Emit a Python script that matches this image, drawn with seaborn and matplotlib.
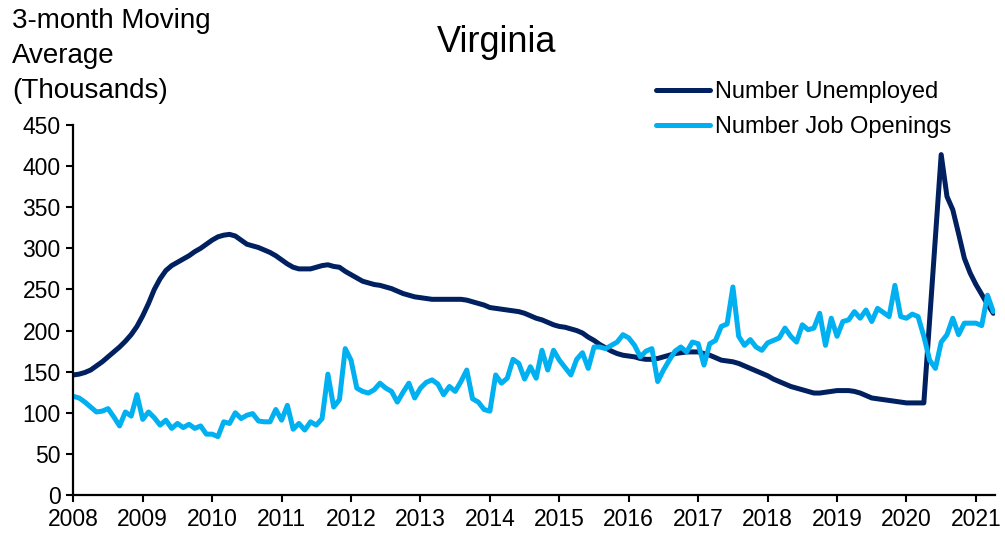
import matplotlib
matplotlib.use("Agg")
import matplotlib.pyplot as plt
import seaborn as sns
import pandas as pd
from matplotlib.lines import Line2D

years = [str(y) for y in range(2008, 2022)]

unemployed = [
    146, 147, 149, 152, 157, 162, 168, 174, 180, 187, 195, 205,
    218, 233, 250, 263, 273, 279, 283, 287, 291, 296, 300, 305,
    310, 314, 316, 317, 315, 310, 305, 303, 301, 298, 295, 291,
    286, 281, 277, 275, 275, 275, 277, 279, 280, 278, 277, 272,
    268, 264, 260, 258, 256, 255, 253, 251, 248, 245, 243, 241,
    240, 239, 238, 238, 238, 238, 238, 238, 237, 235, 233, 231,
    228, 227, 226, 225, 224, 223, 221, 218, 215, 213, 210, 207,
    205, 204, 202, 200, 197, 192, 188, 183, 179, 175, 172, 170,
    169, 168, 166, 165, 165, 166, 168, 170, 172, 173, 174, 174,
    174, 172, 170, 167, 164, 163, 162, 160, 157, 154, 151, 148,
    145, 141, 138, 135, 132, 130, 128, 126, 124, 124, 125, 126,
    127, 127, 127, 126, 124, 121, 118, 117, 116, 115, 114, 113,
    112, 112, 112, 112, 213, 313, 414, 363, 347, 318, 288, 270,
    256, 244, 232, 221,
]

job_openings = [
    120, 118, 113, 107, 101, 102, 105, 95, 84, 101, 96, 122,
    92, 101, 94, 85, 91, 81, 87, 82, 86, 81, 84, 74,
    74, 71, 89, 87, 100, 93, 97, 99, 90, 89, 89, 104,
    91, 109, 80, 87, 79, 89, 85, 93, 147, 107, 116, 178,
    164, 130, 126, 124, 128, 136, 130, 126, 113, 125, 136, 118,
    130, 137, 140, 135, 122, 132, 126, 138, 152, 117, 113, 104,
    102, 146, 136, 142, 165, 160, 141, 156, 142, 176, 152, 176,
    164, 155, 146, 165, 173, 154, 180, 180, 178, 182, 186, 195,
    191, 182, 168, 175, 178, 138, 152, 164, 175, 180, 174, 186,
    184, 158, 184, 188, 205, 208, 253, 193, 182, 189, 180, 176,
    185, 188, 191, 203, 193, 186, 207, 201, 203, 221, 182, 215,
    193, 211, 213, 223, 215, 225, 211, 227, 222, 217, 255, 217,
    215, 220, 217, 193, 164, 154, 186, 195, 215, 195, 209, 209,
    209, 206, 243, 223,
]

series_names = ["Number Unemployed", "Number Job Openings"]
colors = ["#002060", "#00B0F0"]

month_index = list(range(len(unemployed)))
df = pd.DataFrame({
    "month": month_index + month_index,
    "value": unemployed + job_openings,
    "series": [series_names[0]] * len(unemployed) + [series_names[1]] * len(job_openings),
})

sns.set_style("ticks")
plt.rcParams["font.family"] = ["Liberation Sans", "DejaVu Sans"]
plt.rcParams["text.color"] = "black"
plt.rcParams["axes.labelcolor"] = "black"
plt.rcParams["xtick.color"] = "black"
plt.rcParams["ytick.color"] = "black"

fig = plt.figure(figsize=(10.05, 5.35), dpi=100)
ax = fig.add_axes([73.3 / 1005, 1 - 495 / 535, (995 - 73.3) / 1005, 370 / 535])

sns.lineplot(data=df, x="month", y="value", hue="series", hue_order=series_names,
             palette=colors, linewidth=3.6, ax=ax, legend=False)

ax.set_xlim(0, 159.3)
ax.set_ylim(0, 450)
ax.set_yticks(range(0, 451, 50))
ax.set_xticks(range(0, 12 * len(years), 12))
ax.set_xticklabels(years)
ax.set_xlabel("")
ax.set_ylabel("")
ax.tick_params(axis="both", direction="out", length=5, width=1.5, labelsize=16.5,
               colors="black", labelcolor="black", pad=4)
for side in ["left", "bottom"]:
    ax.spines[side].set_linewidth(1.6)
    ax.spines[side].set_color("black")
for side in ["top", "right"]:
    ax.spines[side].set_visible(False)

fig.text(12 / 1005, 1 - 8 / 535, "3-month Moving\nAverage\n(Thousands)",
         ha="left", va="top", fontsize=20, linespacing=1.45, color="black")
fig.text(497 / 1005, 1 - 43 / 535, "Virginia", ha="center", va="center",
         fontsize=26, color="black")

handles = [Line2D([0], [0], color=c, lw=3.6) for c in colors]
leg = fig.legend(handles, series_names, loc="upper left",
                 bbox_to_anchor=(656 / 1005, 1 - 81 / 535), frameon=False,
                 fontsize=17, handlelength=2.3, handletextpad=0.2,
                 labelspacing=0.55, borderpad=0, borderaxespad=0)
for t in leg.get_texts():
    t.set_color("black")

fig.savefig("out.png", dpi=100)
